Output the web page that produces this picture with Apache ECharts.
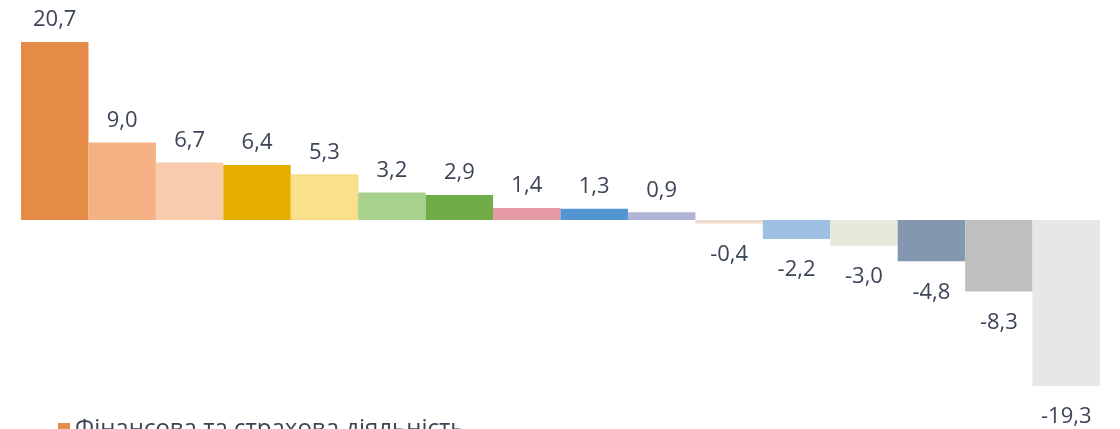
<!DOCTYPE html>
<html>
<head>
<meta charset="utf-8">
<script src="https://cdn.jsdelivr.net/npm/echarts@6/dist/echarts.min.js"></script>
<style>html,body{margin:0;padding:0;background:#fff;}#c{width:1120px;height:429px;}</style>
</head>
<body>
<div id="c"></div>
<script>
var seriesNames = ["Фінансова та страхова діяльність","Вид діяльності 2","Вид діяльності 3","Вид діяльності 4","Вид діяльності 5","Вид діяльності 6","Вид діяльності 7","Вид діяльності 8","Вид діяльності 9","Вид діяльності 10","Вид діяльності 11","Вид діяльності 12","Вид діяльності 13","Вид діяльності 14","Вид діяльності 15","Вид діяльності 16"];
var values = [20.7, 9.0, 6.7, 6.4, 5.3, 3.2, 2.9, 1.4, 1.3, 0.9, -0.4, -2.2, -3.0, -4.8, -8.3, -19.3];
var colors = ["#E68A47","#F4B183","#F8CBAD","#E6AF00","#FAE08A","#A9D18E","#70AD47","#E59AA3","#5195D3","#B1B4D7","#F0DBCD","#9DC0E3","#E7E9DA","#8497B0","#BFBFBF","#E7E7E7"];
var categories = ["2023"];

var chart = echarts.init(document.getElementById('c'));
var series = values.map(function (v, i) {
  return {
    type: 'bar',
    name: seriesNames[i],
    data: [v],
    barGap: '0%',
    barCategoryGap: '0%',
    itemStyle: { color: colors[i], borderColor: i === 4 ? '#F5D77A' : null, borderWidth: i === 4 ? 1 : 0 },
    label: {
      show: true,
      position: v >= 0 ? 'top' : 'bottom',
      distance: v >= 0 ? 11 : 20,
      color: '#3B4556',
      fontFamily: 'Open Sans',
      fontSize: 22,
      formatter: function (p) { return p.value.toFixed(1).replace('.', ','); }
    }
  };
});

chart.setOption({
  animation: false,
  grid: { left: 21, right: 20, top: 30.8, bottom: 37 },
  xAxis: { type: 'category', data: categories, show: false },
  yAxis: { type: 'value', min: -20, max: 22, show: false, splitLine: { show: false } },
  legend: {
    data: [seriesNames[0]],
    left: 58,
    top: 417,
    padding: 0,
    itemWidth: 12,
    itemHeight: 12,
    itemGap: 6,
    icon: 'rect',
    textStyle: { fontFamily: 'Open Sans', fontSize: 24, lineHeight: 24, color: '#3B4556' }
  },
  series: series
});
</script>
</body>
</html>
